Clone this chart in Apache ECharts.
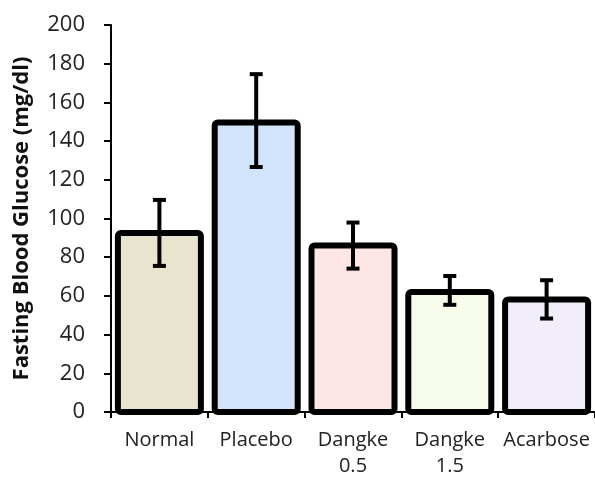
<!DOCTYPE html>
<html><head><meta charset="utf-8">
<script src="https://cdn.jsdelivr.net/npm/echarts@6/dist/echarts.min.js"></script>
<style>html,body{margin:0;padding:0;background:#fff}#c{width:595px;height:480px}</style>
</head><body><div id="c"></div>
<script>
const categories = ['Normal', 'Placebo', 'Dangke\n0.5', 'Dangke\n1.5', 'Acarbose'];
const means = [92.5, 149.6, 86.1, 62.0, 58.2];
const errLow = [75.5, 126.6, 74.1, 55.4, 48.3];
const errHigh = [109.6, 174.6, 97.9, 70.3, 68.1];
const barColors = ['#E9E4CE', '#D2E4FB', '#FFE6E6', '#F7FCEA', '#F1EDFA'];
const yTicks = {min: 0, max: 200, interval: 20};

const chart = echarts.init(document.getElementById('c'));
const font = 'Open Sans, Liberation Sans, sans-serif';
chart.setOption({
  animation: false,
  grid: {left: 111, right: -3, top: 25, bottom: 68, containLabel: false},
  xAxis: {
    type: 'category', data: categories,
    axisLine: {lineStyle: {color: '#000', width: 2}},
    axisTick: {show: true, alignWithLabel: false, length: 6, lineStyle: {color: '#000', width: 2}},
    axisLabel: {color: '#222', fontSize: 20, fontFamily: font, margin: 15, lineHeight: 26, interval: 0, hideOverlap: false}
  },
  yAxis: {
    type: 'value', min: yTicks.min, max: yTicks.max, interval: yTicks.interval,
    name: 'Fasting Blood Glucose (mg/dl)', nameLocation: 'middle', nameGap: 78,
    nameTextStyle: {color: '#111', fontSize: 22, fontWeight: 'bold', fontFamily: font},
    axisLine: {show: true, lineStyle: {color: '#000', width: 2}},
    axisTick: {show: true, length: 7, lineStyle: {color: '#000', width: 2}},
    splitLine: {show: false},
    axisLabel: {color: '#222', fontSize: 22, fontFamily: font, margin: 26}
  },
  series: [
    {
      type: 'custom',
      data: means.map((v, i) => [i, v]),
      encode: {x: 0, y: 1},
      z: 5,
      renderItem: function (params, api) {
        const i = api.value(0);
        const top = api.coord([i, api.value(1)]);
        const base = api.coord([i, 0]);
        const w = 83;
        return {
          type: 'rect',
          shape: {x: top[0] - w / 2, y: top[1], width: w, height: base[1] - top[1], r: 3},
          style: {fill: barColors[params.dataIndex], stroke: '#000', lineWidth: 6, lineJoin: 'round'}
        };
      }
    },
    {
      type: 'custom',
      data: errLow.map((l, i) => [i, l, errHigh[i]]),
      encode: {x: 0, y: [1, 2]},
      z: 10,
      renderItem: function (params, api) {
        const i = api.value(0);
        const lo = api.coord([i, api.value(1)]);
        const hi = api.coord([i, api.value(2)]);
        const hw = 6.5;
        const st = {stroke: '#000', lineWidth: 4};
        return {type: 'group', children: [
          {type: 'line', shape: {x1: hi[0], y1: hi[1], x2: lo[0], y2: lo[1]}, style: st},
          {type: 'line', shape: {x1: hi[0] - hw, y1: hi[1], x2: hi[0] + hw, y2: hi[1]}, style: st},
          {type: 'line', shape: {x1: lo[0] - hw, y1: lo[1], x2: lo[0] + hw, y2: lo[1]}, style: st}
        ]};
      }
    }
  ]
});
</script></body></html>
